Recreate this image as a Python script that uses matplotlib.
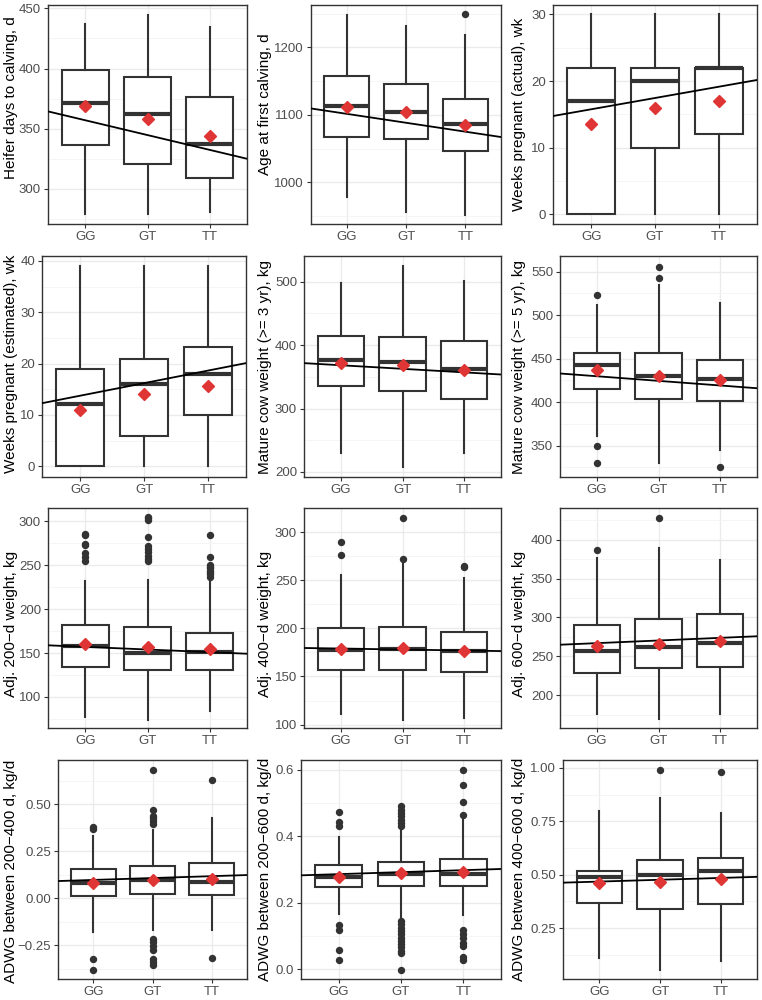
import numpy as np
import matplotlib
matplotlib.use("Agg")
import matplotlib.pyplot as plt
from matplotlib.ticker import MultipleLocator, FixedLocator, FuncFormatter

plt.rcParams['font.family'] = ['Liberation Sans', 'DejaVu Sans']

genotypes = ["GG", "GT", "TT"]

ylabels = [
    "Heifer days to calving, d", "Age at first calving, d", "Weeks pregnant (actual), wk",
    "Weeks pregnant (estimated), wk", "Mature cow weight (>= 3 yr), kg", "Mature cow weight (>= 5 yr), kg",
    "Adj. 200\u2212d weight, kg", "Adj. 400\u2212d weight, kg", "Adj. 600\u2212d weight, kg",
    "ADWG between 200\u2212400 d, kg/d", "ADWG between 200\u2212600 d, kg/d", "ADWG between 400\u2212600 d, kg/d",
]

# box statistics per panel: [GG, GT, TT]
whislo = [
    [279, 279, 280.6], [978, 956, 951], [0, 0, 0],
    [0, 0, 0], [230.5, 208, 230.5], [361.3, 330, 345],
    [77.3, 74, 84], [111.5, 105, 107], [176.3, 170, 176.3],
    [-0.181, -0.167, -0.17], [0.167, 0.154, 0.163], [0.11, 0.056, 0.098],
]
q1 = [
    [336.4, 321, 309], [1067, 1064, 1046], [0, 10, 12],
    [0, 6, 10], [335, 328, 315], [415.7, 404, 400.8],
    [133.6, 130.4, 130.5], [157, 156.6, 155], [228, 235.3, 236.6],
    [0.0106, 0.025, 0.016], [0.247, 0.251, 0.25], [0.366, 0.341, 0.365],
]
med = [
    [371, 362.5, 337], [1113, 1103.5, 1086], [17, 20, 22],
    [12.1, 16, 18], [377, 373, 362], [442.7, 430.5, 427],
    [158.4, 150.6, 150.8], [178, 178.7, 176], [257.2, 261.5, 267.6],
    [0.0816, 0.096, 0.085], [0.278, 0.286, 0.287], [0.489, 0.497, 0.516],
]
q3 = [
    [399, 393, 376], [1157, 1146, 1124], [22, 22, 22],
    [19, 21, 23.2], [414, 412, 407], [456, 457, 449],
    [181.5, 179.6, 173.3], [200.3, 201.4, 196], [290.3, 297.6, 304.6],
    [0.156, 0.174, 0.186], [0.313, 0.323, 0.333], [0.517, 0.57, 0.578],
]
whishi = [
    [437, 444.7, 434.7], [1248, 1232, 1218], [30, 30, 30],
    [39, 39, 39], [498, 524.7, 501], [511.5, 535, 514],
    [232, 233, 235], [255, 267.5, 252.4], [376, 389.2, 373.8],
    [0.333, 0.365, 0.426], [0.398, 0.42, 0.452], [0.797, 0.86, 0.789],
]
means = [
    [368.6, 358, 344], [1111, 1104, 1085], [13.55, 15.9, 17.05],
    [10.9, 14.0, 15.7], [372, 369, 361], [437, 430, 425],
    [160, 156.5, 154.2], [179, 180, 176.2], [263, 266, 269.3],
    [0.0816, 0.099, 0.105], [0.278, 0.288, 0.291], [0.46, 0.466, 0.478],
]
fliers = [
    [[], [], []],
    [[], [], [1250]],
    [[], [], []],
    [[], [], []],
    [[], [], []],
    [[522.8, 350.2, 330.3], [555, 543], [325.7]],
    [[285.9, 284.8, 274.5, 272.6, 263.8, 258.9, 255],
     [305, 303.5, 301.9, 282, 272, 268.6, 264.6, 260.8, 257, 255],
     [284, 259.6, 250, 248, 246.5, 244, 242.7, 240, 237]],
    [[289.5, 276], [315, 271.7], [264.9, 263.5]],
    [[387], [428.4], []],
    [[0.378, 0.368, -0.323, -0.379],
     [0.684, 0.47, 0.438, 0.426, 0.412, 0.396, -0.216, -0.234, -0.255, -0.273, -0.323, -0.34, -0.353],
     [0.63, -0.317]],
    [[0.474, 0.442, 0.43, 0.133, 0.118, 0.058, 0.028],
     [0.49, 0.48, 0.47, 0.46, 0.45, 0.44, 0.43, 0.144, 0.135, 0.125, 0.115, 0.105,
      0.095, 0.085, 0.075, 0.065, 0.055, 0.048, -0.002],
     [0.6, 0.555, 0.502, 0.465, 0.118, 0.106, 0.093, 0.078, 0.068, 0.036, 0.028]],
    [[], [0.988], [0.981]],
]
# fitted regression values at GG and TT
fit_gg = [357, 1101.5, 15.76, 13.76, 368.2, 429.8, 157, 179, 267, 0.098, 0.286, 0.468]
fit_tt = [332.4, 1075, 19.14, 18.64, 357, 419.2, 151, 177, 273.8, 0.118, 0.298, 0.485]

ylims = [
    (270.8, 452.8), (938, 1263), (-1.45, 31.4),
    (-2.08, 40.97), (192, 540.5), (314, 568),
    (64.6, 315.2), (96.5, 325), (157.8, 440.9),
    (-0.429, 0.736), (-0.030, 0.63), (0.012, 1.037),
]
major = [50, 100, 10, 10, 100, 50, 50, 50, 50, 0.25, 0.2, 0.25]
decimals = [0, 0, 0, 0, 0, 0, 0, 0, 0, 2, 1, 2]

# panel rectangles in pixels (left, right) and (top, bottom)
rows_y = [(5, 224), (256, 477), (508, 728), (760, 979)]
cols_x = [
    [(48, 247), (311, 501), (553, 757)],
    [(42, 246), (304, 501), (560, 757)],
    [(48, 247), (304, 501), (560, 757)],
    [(58, 247), (301, 501), (563, 757)],
]
cell_left = [0, 254, 508]
# y-label centre, in axes fraction
label_y = [0.575, 0.548, 0.5, 0.51, 0.5, 0.5, 0.473, 0.473, 0.475, 0.49, 0.5, 0.5]

W, H = 762, 1000
fig = plt.figure(figsize=(W / 100, H / 100), dpi=100)

dark = "#333333"
for i in range(12):
    r, c = divmod(i, 3)
    x0, x1 = cols_x[r][c]
    t, b = rows_y[r]
    ax = fig.add_axes([x0 / W, 1 - b / H, (x1 - x0) / W, (b - t) / H])

    stats = []
    for j, g in enumerate(genotypes):
        stats.append(dict(label=g, whislo=whislo[i][j], q1=q1[i][j], med=med[i][j],
                          q3=q3[i][j], whishi=whishi[i][j], fliers=fliers[i][j]))
    ax.bxp(stats, positions=[1, 2, 3], widths=0.75, showcaps=False, patch_artist=True,
           boxprops=dict(facecolor="white", edgecolor=dark, linewidth=1.5),
           whiskerprops=dict(color=dark, linewidth=1.5),
           medianprops=dict(color=dark, linewidth=3.0, solid_capstyle="butt"),
           flierprops=dict(marker="o", markerfacecolor=dark, markeredgecolor=dark,
                           markersize=4.3, linestyle="none"),
           zorder=2)
    ax.plot([1, 2, 3], means[i], linestyle="none", marker="D", markersize=6.5,
            color="#E03535", zorder=4)
    ax.axline((1, fit_gg[i]), (3, fit_tt[i]), color="black", linewidth=1.3, zorder=3)

    ax.set_xlim(0.4, 3.6)
    ax.set_ylim(*ylims[i])
    ax.yaxis.set_major_locator(MultipleLocator(major[i]))
    ax.yaxis.set_minor_locator(MultipleLocator(major[i] / 2))
    d = decimals[i]
    ax.yaxis.set_major_formatter(FuncFormatter(
        lambda v, p, d=d: (f"{v:.{d}f}").replace("-", "\u2212") if abs(v) > 1e-9 else f"{0:.{d}f}"))
    ax.xaxis.set_minor_locator(FixedLocator([]))

    ax.set_axisbelow(True)
    ax.grid(which="major", color="#EBEBEB", linewidth=1.0)
    ax.grid(which="minor", axis="y", color="#F4F4F4", linewidth=0.6)
    for s in ax.spines.values():
        s.set_color(dark)
        s.set_linewidth(1.0)
    ax.tick_params(axis="both", which="major", length=3, width=0.8, color=dark,
                   labelsize=9.5, labelcolor="#4D4D4D", pad=2)
    ax.tick_params(axis="y", which="minor", length=0)
    ax.set_ylabel(ylabels[i], fontsize=11, color="black")
    lx = cell_left[c] + 18
    ax.yaxis.set_label_coords((lx - x0) / (x1 - x0), label_y[i])

fig.savefig("out.png", dpi=100)
